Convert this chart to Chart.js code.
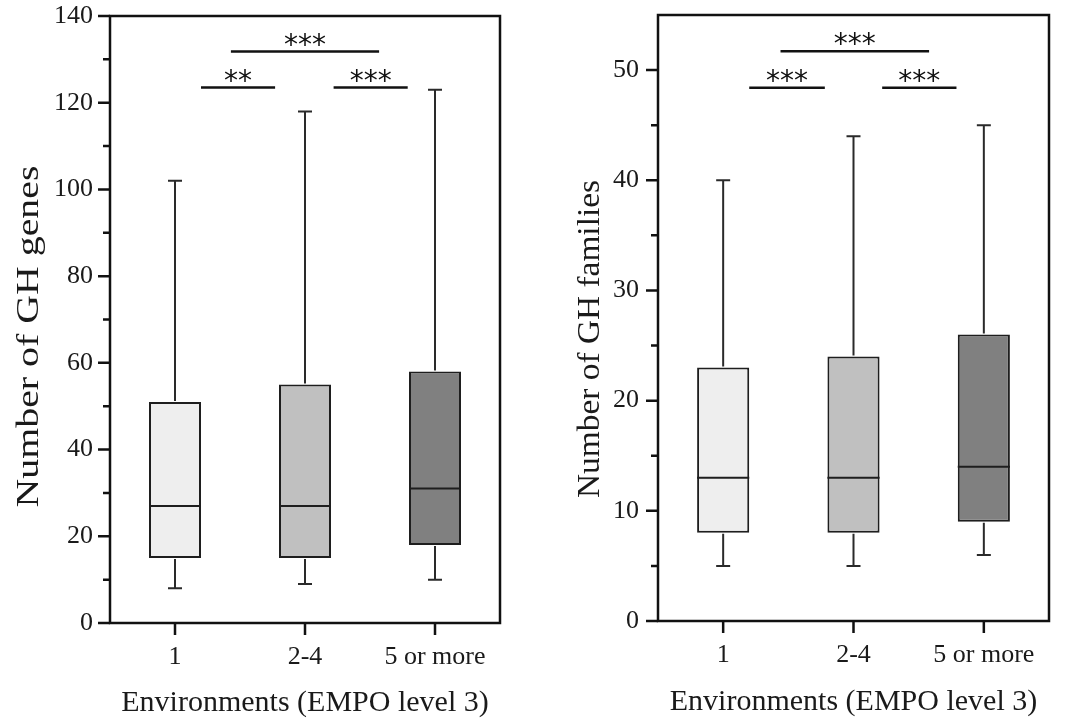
<!DOCTYPE html>
<html>
<head>
<meta charset="utf-8">
<script src="https://cdn.jsdelivr.net/npm/chart.js@4.4.1/dist/chart.umd.min.js"></script>
<style>
  html, body { margin: 0; padding: 0; background: #fff; }
  #wrap { display: flex; width: 1080px; height: 726px; }
  .panel { position: relative; width: 540px; height: 726px; }
</style>
</head>
<body>
<div id="wrap">
  <div class="panel"><canvas id="genesChart"></canvas></div>
  <div class="panel"><canvas id="familiesChart"></canvas></div>
</div>
<script>
// ---- data ----
const categories = ['1', '2-4', '5 or more'];
const boxColors = ['#eeeeee', '#c0c0c0', '#808080'];

const genesMin = [8, 9, 10];
const genesQ1 = [15, 15, 18];
const genesMedian = [27, 27, 31];
const genesQ3 = [51, 55, 58];
const genesMax = [102, 118, 123];
const genesTicks = [0, 20, 40, 60, 80, 100, 120, 140];
const genesMinorTicks = [10, 30, 50, 70, 90, 110, 130];
// significance brackets: from / to (category index), level (y value), label
const genesBracketFrom = [0.2, 1.22, 0.43];
const genesBracketTo = [0.77, 1.79, 1.57];
const genesBracketLevel = [123.5, 123.5, 131.8];
const genesBracketLabel = ['**', '***', '***'];

const familiesMin = [5, 5, 6];
const familiesQ1 = [8, 8, 9];
const familiesMedian = [13, 13, 14];
const familiesQ3 = [23, 24, 26];
const familiesMax = [40, 44, 45];
const familiesTicks = [0, 10, 20, 30, 40, 50];
const familiesMinorTicks = [5, 15, 25, 35, 45];
const familiesBracketFrom = [0.2, 1.22, 0.44];
const familiesBracketTo = [0.78, 1.79, 1.58];
const familiesBracketLevel = [48.4, 48.4, 51.7];
const familiesBracketLabel = ['***', '***', '***'];

Chart.defaults.font.family = "'Liberation Serif', 'Times New Roman', serif";
Chart.defaults.color = '#1a1a1a';

const INK = '#111111';

// whiskers, medians, frame, ticks, brackets and the rotated y title
function makeBoxPlugin(stats, look) {
    return {
        id: 'boxExtras',
        afterDatasetsDraw(chart) {
            const ctx = chart.ctx;
            const y = chart.scales.y;
            const bars = chart.getDatasetMeta(0).data;
            ctx.save();
            ctx.lineCap = 'butt';
            bars.forEach((bar, i) => {
                const bx = bar.x;
                const half = bar.width / 2;
                const pMin = y.getPixelForValue(stats.min[i]);
                const pQ1 = y.getPixelForValue(stats.q1[i]);
                const pMed = y.getPixelForValue(stats.median[i]);
                const pQ3 = y.getPixelForValue(stats.q3[i]);
                const pMax = y.getPixelForValue(stats.max[i]);

                ctx.strokeStyle = '#2a2a2a';
                ctx.lineWidth = 2;
                ctx.beginPath();
                ctx.moveTo(bx, pQ3 - 1); ctx.lineTo(bx, pMax);
                ctx.moveTo(bx - 7, pMax); ctx.lineTo(bx + 7, pMax);
                ctx.moveTo(bx, pQ1 + 1); ctx.lineTo(bx, pMin);
                ctx.moveTo(bx - 7, pMin); ctx.lineTo(bx + 7, pMin);
                ctx.stroke();

                ctx.strokeStyle = '#1e1e1e';
                ctx.lineWidth = 2;
                ctx.beginPath();
                ctx.moveTo(bx - half, pMed); ctx.lineTo(bx + half, pMed);
                ctx.stroke();
            });
            ctx.restore();
        },
        afterDraw(chart) {
            const ctx = chart.ctx;
            const area = chart.chartArea;
            const x = chart.scales.x;
            const y = chart.scales.y;
            ctx.save();
            ctx.strokeStyle = INK;
            ctx.lineWidth = 2.5;
            ctx.strokeRect(area.left, area.top, area.right - area.left, area.bottom - area.top);

            ctx.beginPath();
            stats.ticks.forEach(v => {
                const p = y.getPixelForValue(v);
                ctx.moveTo(area.left - 12, p); ctx.lineTo(area.left, p);
            });
            stats.minorTicks.forEach(v => {
                const p = y.getPixelForValue(v);
                ctx.moveTo(area.left - 7, p); ctx.lineTo(area.left, p);
            });
            categories.forEach((c, i) => {
                const p = x.getPixelForValue(i);
                ctx.moveTo(p, area.bottom); ctx.lineTo(p, area.bottom + 12);
            });
            ctx.stroke();

            // significance brackets
            ctx.lineWidth = 2.5;
            ctx.fillStyle = INK;
            ctx.font = "28px 'DejaVu Sans', sans-serif";
            ctx.textAlign = 'center';
            ctx.textBaseline = 'alphabetic';
            stats.bracketLevel.forEach((lvl, i) => {
                const x0 = x.getPixelForValue(stats.bracketFrom[i]);
                const x1 = x.getPixelForValue(stats.bracketTo[i]);
                const py = y.getPixelForValue(lvl);
                ctx.beginPath();
                ctx.moveTo(x0, py); ctx.lineTo(x1, py);
                ctx.stroke();
                ctx.fillText(stats.bracketLabel[i], (x0 + x1) / 2, py + 2);
            });

            // y axis title
            ctx.font = look.titleFont;
            ctx.fillStyle = '#1a1a1a';
            const w = ctx.measureText(look.title).width;
            ctx.translate(area.left - look.titleGap, (area.top + area.bottom) / 2 + look.titleShift);
            ctx.rotate(-Math.PI / 2);
            ctx.scale(look.titleLength / w, 1);
            ctx.textAlign = 'center';
            ctx.fillText(look.title, 0, 0);
            ctx.restore();
        }
    };
}

function buildChart(canvasId, stats, look) {
    const ctx = document.getElementById(canvasId).getContext('2d');
    return new Chart(ctx, {
        type: 'bar',
        data: {
            labels: categories,
            datasets: [{
                data: stats.q1.map((v, i) => [v, stats.q3[i]]),
                backgroundColor: boxColors,
                borderColor: '#1e1e1e',
                borderWidth: 2,
                borderSkipped: false,
                categoryPercentage: 1,
                barPercentage: 0.4
            }]
        },
        options: {
            responsive: true,
            maintainAspectRatio: false,
            animation: false,
            events: [],
            layout: { padding: look.padding },
            plugins: { legend: { display: false }, tooltip: { enabled: false } },
            scales: {
                x: {
                    grid: { display: false, drawTicks: false },
                    border: { display: false },
                    ticks: { font: { size: 26 }, padding: 19, maxRotation: 0 },
                    title: {
                        display: true,
                        text: 'Environments (EMPO level 3)',
                        font: { size: 30 },
                        padding: { top: 0, bottom: look.xTitlePad }
                    },
                    afterFit: s => {
                        s.height = look.xHeight;
                        s.paddingLeft = 0;
                        s.paddingRight = 0;
                    }
                },
                y: {
                    min: 0,
                    max: stats.yMax,
                    grid: { display: false, drawTicks: false },
                    border: { display: false },
                    ticks: { font: { size: 26 }, padding: look.yTickPad },
                    afterBuildTicks: s => { s.ticks = stats.ticks.map(v => ({ value: v })); },
                    afterFit: s => {
                        s.width = look.yWidth;
                        s.paddingTop = 0;
                        s.paddingBottom = 0;
                    }
                }
            }
        },
        plugins: [makeBoxPlugin(stats, look)]
    });
}

buildChart('genesChart', {
    min: genesMin, q1: genesQ1, median: genesMedian, q3: genesQ3, max: genesMax,
    yMax: 140, ticks: genesTicks, minorTicks: genesMinorTicks,
    bracketFrom: genesBracketFrom, bracketTo: genesBracketTo,
    bracketLevel: genesBracketLevel, bracketLabel: genesBracketLabel
}, {
    padding: { top: 16, right: 40, left: 0, bottom: 0 },
    xHeight: 103, yWidth: 110, yTickPad: 17, xTitlePad: 5,
    title: 'Number of GH genes', titleFont: "32px 'Liberation Serif', serif",
    titleGap: 72, titleShift: 17, titleLength: 342
});

buildChart('familiesChart', {
    min: familiesMin, q1: familiesQ1, median: familiesMedian, q3: familiesQ3, max: familiesMax,
    yMax: 55, ticks: familiesTicks, minorTicks: familiesMinorTicks,
    bracketFrom: familiesBracketFrom, bracketTo: familiesBracketTo,
    bracketLevel: familiesBracketLevel, bracketLabel: familiesBracketLabel
}, {
    padding: { top: 15, right: 31, left: 0, bottom: 0 },
    xHeight: 105, yWidth: 118, yTickPad: 19, xTitlePad: 6,
    title: 'Number of GH families', titleFont: "32px 'Liberation Serif', serif",
    titleGap: 59, titleShift: 21, titleLength: 318
});
</script>
</body>
</html>
